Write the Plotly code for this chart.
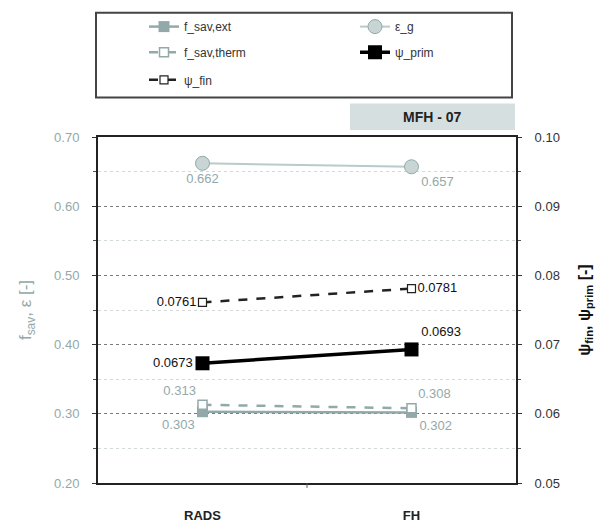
import plotly.graph_objects as go

categories = ["RADS", "FH"]
f_sav_ext = [0.303, 0.302]
f_sav_therm = [0.313, 0.308]
eps_g = [0.662, 0.657]
psi_prim = [0.0673, 0.0693]
psi_fin = [0.0761, 0.0781]
left_ticks = [0.20, 0.30, 0.40, 0.50, 0.60, 0.70]
right_ticks = [0.05, 0.06, 0.07, 0.08, 0.09, 0.10]

TEAL = "#93a9a9"
TEAL_LIGHT = "#b9caca"
FONT = "Arial, Liberation Sans, sans-serif"

fig = go.Figure()

fig.add_trace(go.Scatter(
    x=categories, y=f_sav_ext, name="f_sav,ext", mode="lines+markers+text",
    line=dict(color=TEAL, width=2.5),
    marker=dict(symbol="square", size=11, color=TEAL),
    text=[f"{v:.3f}" for v in f_sav_ext], textposition=["bottom left", "bottom right"],
    textfont=dict(color=TEAL, size=13, family=FONT), yaxis="y", legend="legend"))

fig.add_trace(go.Scatter(
    x=categories, y=eps_g, name="ε_g", mode="lines+markers+text",
    line=dict(color=TEAL_LIGHT, width=2),
    marker=dict(symbol="circle", size=14, color="#c9d5d5", line=dict(color=TEAL, width=1)),
    text=[f"{v:.3f}" for v in eps_g], textposition=["bottom center", "bottom right"],
    textfont=dict(color=TEAL, size=13, family=FONT), yaxis="y", legend="legend"))

fig.add_trace(go.Scatter(
    x=categories, y=f_sav_therm, name="f_sav,therm", mode="lines+markers+text",
    line=dict(color=TEAL, width=2.5, dash="dash"),
    marker=dict(symbol="square", size=9, color="white", line=dict(color=TEAL, width=1.5)),
    text=[f"{v:.3f}" for v in f_sav_therm], textposition=["top left", "top right"],
    textfont=dict(color=TEAL, size=13, family=FONT), yaxis="y", legend="legend2"))

fig.add_trace(go.Scatter(
    x=categories, y=psi_prim, name="ψ_prim", mode="lines+markers+text",
    line=dict(color="black", width=3.5),
    marker=dict(symbol="square", size=14, color="black"),
    text=[f"{v:.4f}" for v in psi_prim], textposition=["middle left", "top right"],
    textfont=dict(color="#111", size=13, family=FONT), yaxis="y2", legend="legend2"))

fig.add_trace(go.Scatter(
    x=categories, y=psi_fin, name="ψ_fin", mode="lines+markers+text",
    line=dict(color="#222", width=2.5, dash="dash"),
    marker=dict(symbol="square", size=8, color="white", line=dict(color="#222", width=1.2)),
    text=[f"{v:.4f}" for v in psi_fin], textposition=["middle left", "middle right"],
    textfont=dict(color="#111", size=13, family=FONT), yaxis="y2", legend="legend3"))

def top_of(px):
    return 1 + (132 - px) / 351

legend_common = dict(
    orientation="h", xanchor="left", yanchor="middle",
    entrywidth=166, entrywidthmode="pixels",
    borderwidth=0, bgcolor="rgba(0,0,0,0)",
    font=dict(size=12, color="#333", family=FONT), traceorder="normal",
)
LX = (144 - 98) / 418

fig.update_layout(
    width=602, height=526,
    margin=dict(l=98, r=86, t=132, b=43),
    paper_bgcolor="white", plot_bgcolor="white",
    font=dict(family=FONT, size=13, color="#333"),
    showlegend=True,
    legend=dict(legend_common, x=LX, y=top_of(20)),
    legend2=dict(legend_common, x=LX, y=top_of(46)),
    legend3=dict(legend_common, x=LX, y=top_of(74)),
    xaxis=dict(
        type="category", range=[-0.5, 1.5], showline=True, linecolor="#222", linewidth=2,
        mirror=True, ticks="", automargin=False,
        tickvals=categories, ticktext=[f"<b>{c}</b>" for c in categories],
        tickfont=dict(size=13, color="#222", family=FONT),
        ticklabelstandoff=19, showgrid=False, zeroline=False,
    ),
    yaxis=dict(
        range=[0.2, 0.7], tickvals=left_ticks, ticktext=[f"{v:.2f}" for v in left_ticks],
        showline=True, linecolor="#222", linewidth=2, ticks="outside", ticklen=4, tickcolor="#333",
        tickfont=dict(size=13, color=TEAL), ticklabelstandoff=10, automargin=False,
        showgrid=True, gridcolor="#7a7a7a", griddash="dot", gridwidth=1, zeroline=False,
        minor=dict(dtick=0.05, showgrid=True, gridcolor="#d3d9d9", griddash="dot",
                   ticks="outside", ticklen=3, tickcolor="#555"),
        title=dict(text="f<sub>sav</sub>, ε [-]", font=dict(size=17, color=TEAL), standoff=18),
    ),
    yaxis2=dict(
        range=[0.05, 0.10], tickvals=right_ticks, ticktext=[f"{v:.2f}" for v in right_ticks],
        overlaying="y", side="right", showline=True, linecolor="#222", linewidth=2,
        ticks="outside", ticklen=4, tickcolor="#333", tickfont=dict(size=13, color="#333"),
        ticklabelstandoff=10, showgrid=False, zeroline=False, automargin=False,
        minor=dict(dtick=0.005, ticks="outside", ticklen=3, tickcolor="#555"),
        title=dict(text="<b>ψ<sub>fin</sub>, ψ<sub>prim</sub> [-]</b>", font=dict(size=16, color="#111"), standoff=20),
    ),
    shapes=[
        dict(type="rect", xref="paper", yref="paper",
             x0=(350 - 98) / 418, x1=(515 - 98) / 418, y0=top_of(125), y1=top_of(98),
             fillcolor="#d6dfdf", line=dict(width=0), layer="below"),
        dict(type="rect", xref="paper", yref="paper",
             x0=(96 - 98) / 418, x1=(512 - 98) / 418, y0=top_of(92), y1=top_of(6),
             fillcolor="rgba(0,0,0,0)", line=dict(width=2, color="#444"), layer="below"),
        dict(type="line", xref="x", yref="paper", x0=0.5, x1=0.5, y0=0, y1=-0.014,
             line=dict(width=1, color="#555")),
    ],
    annotations=[dict(text="<b>MFH - 07</b>", xref="paper", yref="paper",
                      x=(432 - 98) / 418, y=top_of(111.5), xanchor="center", yanchor="middle",
                      showarrow=False, font=dict(size=14, color="#222", family=FONT))],
)

fig.write_html("out.html")
